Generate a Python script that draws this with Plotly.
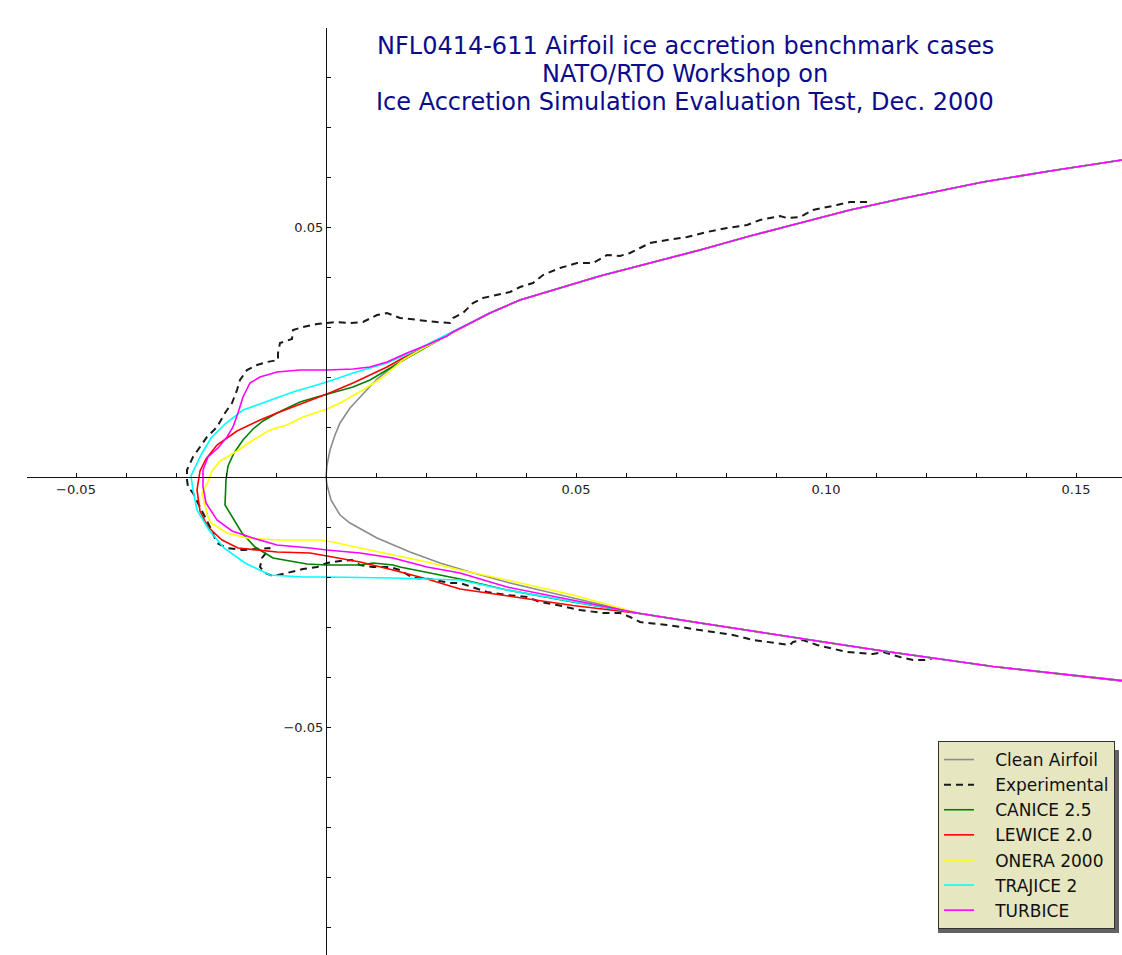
import plotly.graph_objects as go

# ---------------- data (chord-normalised coordinates) ----------------
# shared clean aft surfaces (all computed shapes coincide with them)
upper_surface = [(0.17, 0.0648), (0.1592, 0.0634), (0.1448, 0.0612), (0.1314, 0.059),
                 (0.1148, 0.0556), (0.1048, 0.0534), (0.0948, 0.0508), (0.0848, 0.0482),
                 (0.0748, 0.0454), (0.0648, 0.0428), (0.0548, 0.0402), (0.0468, 0.0378),
                 (0.0388, 0.0354), (0.0328, 0.0328), (0.0254, 0.029)]
lower_surface = [(0.0628, -0.0273), (0.0748, -0.0292), (0.0868, -0.031), (0.1, -0.0331),
                 (0.1114, -0.0348), (0.1334, -0.0379), (0.1591, -0.0408), (0.17, -0.0419)]

clean_le = [(0.0188, 0.0254), (0.0138, 0.0224), (0.0102, 0.0196), (0.0068, 0.016),
            (0.0048, 0.0138), (0.0028, 0.0108), (0.0018, 0.0084), (0.0008, 0.0054),
            (0.0002, 0.0024), (0.0, 0.0), (0.0002, -0.0016), (0.001, -0.0046),
            (0.0028, -0.0076), (0.0048, -0.0092), (0.0102, -0.0122), (0.0168, -0.015),
            (0.0228, -0.0172), (0.0288, -0.019), (0.0368, -0.0212), (0.0494, -0.0242)]

experimental = [(0.1082, 0.055), (0.1048, 0.055), (0.1022, 0.0544), (0.0974, 0.0534),
                (0.0948, 0.052), (0.0922, 0.0518), (0.0908, 0.0522), (0.0868, 0.0514),
                (0.0842, 0.0504), (0.0802, 0.0498), (0.0762, 0.049), (0.0722, 0.048),
                (0.0682, 0.0474), (0.0648, 0.0468), (0.0628, 0.0458), (0.0608, 0.0448),
                (0.0588, 0.0442), (0.0562, 0.0444), (0.0534, 0.0428), (0.0502, 0.0428),
                (0.0468, 0.0418), (0.0434, 0.0404), (0.0414, 0.0388), (0.0388, 0.038),
                (0.0368, 0.037), (0.0342, 0.0364), (0.0314, 0.0358), (0.0294, 0.0348),
                (0.0274, 0.0328), (0.0254, 0.0318), (0.0248, 0.0308), (0.0222, 0.031),
                (0.0188, 0.0314), (0.0148, 0.0318), (0.0122, 0.0328), (0.0102, 0.0324),
                (0.0074, 0.031), (0.0048, 0.0308), (0.0022, 0.031), (0.0002, 0.0308),
                (-0.0018, 0.0306), (-0.0046, 0.03), (-0.0066, 0.0294), (-0.0068, 0.0276),
                (-0.0092, 0.0268), (-0.0096, 0.0248), (-0.0096, 0.0234), (-0.0118, 0.023),
                (-0.0138, 0.0224), (-0.0158, 0.0214), (-0.0172, 0.0194), (-0.0178, 0.0174),
                (-0.0188, 0.0148), (-0.0202, 0.0128), (-0.0218, 0.01), (-0.0238, 0.008),
                (-0.0252, 0.006), (-0.0266, 0.004), (-0.0278, 0.0014), (-0.0278, -0.0006),
                (-0.0276, -0.002), (-0.0266, -0.0032), (-0.0252, -0.006), (-0.0232, -0.01),
                (-0.0218, -0.0132), (-0.0198, -0.0142), (-0.0166, -0.0146), (-0.0126, -0.0144),
                (-0.0112, -0.0142), (-0.0128, -0.0162), (-0.0132, -0.018), (-0.0122, -0.0192),
                (-0.0106, -0.0198), (-0.0078, -0.0192), (-0.0046, -0.0184), (-0.0018, -0.018),
                (0.0002, -0.0172), (0.0028, -0.0168), (0.0052, -0.0166), (0.0068, -0.0176),
                (0.0094, -0.018), (0.0128, -0.018), (0.0148, -0.0186), (0.0174, -0.0202),
                (0.0208, -0.0204), (0.0248, -0.0212), (0.0268, -0.0212), (0.0322, -0.023),
                (0.0362, -0.0236), (0.0402, -0.024), (0.0428, -0.025), (0.0462, -0.0256),
                (0.0508, -0.0266), (0.0554, -0.0272), (0.0588, -0.0272), (0.0608, -0.028),
                (0.0628, -0.029), (0.0682, -0.0296), (0.0722, -0.0302), (0.0774, -0.031),
                (0.0814, -0.0316), (0.0854, -0.0326), (0.0894, -0.0332), (0.0928, -0.0336),
                (0.0934, -0.033), (0.0954, -0.0326), (0.0982, -0.0336), (0.1008, -0.0342),
                (0.1042, -0.035), (0.1068, -0.0352), (0.1094, -0.0354), (0.1114, -0.035),
                (0.1148, -0.036), (0.1174, -0.0366), (0.1202, -0.0366), (0.1214, -0.0362)]

canice_le = [(0.0162, 0.0238), (0.0122, 0.0214), (0.0088, 0.0194), (0.0054, 0.018),
             (0.0008, 0.0168), (-0.0018, 0.016), (-0.0052, 0.015), (-0.0072, 0.014),
             (-0.0098, 0.0128), (-0.0126, 0.0112), (-0.0146, 0.0096), (-0.0166, 0.0074),
             (-0.0184, 0.0048), (-0.0196, 0.0022), (-0.02, -0.0006), (-0.0202, -0.0056),
             (-0.0192, -0.0072), (-0.0168, -0.0112), (-0.0142, -0.014), (-0.0106, -0.0162),
             (-0.0038, -0.0174), (0.0002, -0.0176), (0.0068, -0.0176), (0.0094, -0.0172),
             (0.0134, -0.0176), (0.0148, -0.018), (0.0268, -0.0204), (0.0362, -0.0226),
             (0.0494, -0.025)]

lewice_le = [(0.0154, 0.0238), (0.0122, 0.022), (0.0054, 0.0188), (0.0002, 0.0166),
             (-0.0046, 0.0148), (-0.0098, 0.0128), (-0.0132, 0.0114), (-0.0178, 0.0092),
             (-0.0218, 0.0064), (-0.024, 0.0036), (-0.0252, 0.0012), (-0.0258, -0.0026),
             (-0.0252, -0.0068), (-0.0236, -0.01), (-0.0208, -0.0126), (-0.0176, -0.0142),
             (-0.0098, -0.015), (-0.0032, -0.0152), (0.0002, -0.0158), (0.0068, -0.017),
             (0.0134, -0.0186), (0.0202, -0.0204), (0.0268, -0.0224), (0.0362, -0.0238),
             (0.0494, -0.0257)]

onera_le = [(0.0188, 0.0254), (0.0154, 0.0234), (0.0114, 0.02), (0.0074, 0.0174),
            (0.0028, 0.0148), (0.0002, 0.0136), (-0.0046, 0.012), (-0.0078, 0.0104),
            (-0.0112, 0.0094), (-0.0146, 0.0074), (-0.0178, 0.0052), (-0.0212, 0.0032),
            (-0.0228, 0.0012), (-0.0238, -0.0014), (-0.0248, -0.0032), (-0.0236, -0.008),
            (-0.023, -0.0092), (-0.0198, -0.0112), (-0.0158, -0.0122), (-0.0098, -0.0126),
            (-0.0012, -0.0126), (0.0014, -0.013), (0.0068, -0.0142), (0.0134, -0.0156),
            (0.0202, -0.017), (0.0268, -0.0186), (0.0362, -0.0206), (0.0494, -0.0236)]

trajice_le = [(0.0208, 0.0268), (0.0168, 0.0248), (0.0122, 0.0228), (0.0054, 0.0208),
              (0.0002, 0.019), (-0.0066, 0.017), (-0.0112, 0.0154), (-0.0166, 0.0134),
              (-0.0202, 0.0106), (-0.023, 0.0078), (-0.025, 0.0044), (-0.027, 0.0002),
              (-0.0266, -0.0026), (-0.0258, -0.0066), (-0.0234, -0.0106), (-0.0204, -0.0142),
              (-0.0162, -0.0172), (-0.0112, -0.0196), (-0.0046, -0.02), (0.0002, -0.02),
              (0.0134, -0.0202), (0.0268, -0.0206), (0.0362, -0.0226), (0.0494, -0.025)]

turbice_le = [(0.0242, 0.0282), (0.0202, 0.0264), (0.0162, 0.0248), (0.0122, 0.023),
              (0.0088, 0.022), (0.0054, 0.0216), (0.0002, 0.0214), (-0.0052, 0.0214),
              (-0.0098, 0.021), (-0.0132, 0.02), (-0.0152, 0.0188), (-0.0166, 0.016),
              (-0.0176, 0.0128), (-0.0186, 0.01), (-0.0198, 0.008), (-0.0216, 0.0058),
              (-0.0236, 0.004), (-0.0246, 0.0014), (-0.0246, -0.002), (-0.024, -0.0052),
              (-0.0218, -0.0086), (-0.0188, -0.0108), (-0.0146, -0.0122), (-0.0098, -0.0136),
              (-0.0032, -0.0142), (0.0002, -0.0146), (0.0068, -0.0152), (0.0134, -0.0162),
              (0.0202, -0.018), (0.0268, -0.0192), (0.0362, -0.022), (0.0494, -0.0246)]

series_names = ["Clean Airfoil", "Experimental", "CANICE 2.5", "LEWICE 2.0",
                "ONERA 2000", "TRAJICE 2", "TURBICE"]
series_colors = ["#8c8c8c", "#1a1a1a", "#008000", "#ff0000", "#ffff00", "#00ffff", "#ff00ff"]

x_ticks = [-0.05, 0.05, 0.10, 0.15]
x_ticktext = ["\u22120.05", "0.05", "0.10", "0.15"]
y_ticks = [-0.05, 0.05]
y_ticktext = ["\u22120.05", "0.05"]

x_range = [-0.0598, 0.1592]
y_range = [-0.0956, 0.0898]

title_lines = ["NFL0414-611 Airfoil ice accretion benchmark cases",
               "NATO/RTO Workshop on",
               "Ice Accretion Simulation Evaluation Test, Dec. 2000"]

# ---------------- figure ----------------
def full_shape(le):
    return upper_surface + le + lower_surface

shapes_data = [full_shape(clean_le), experimental, full_shape(canice_le),
               full_shape(lewice_le), full_shape(onera_le), full_shape(trajice_le),
               full_shape(turbice_le)]

fig = go.Figure()
for name, pts, col in zip(series_names, shapes_data, series_colors):
    fig.add_trace(go.Scatter(
        x=[p[0] for p in pts], y=[p[1] for p in pts], mode="lines",
        name="\u00a0\u00a0\u00a0" + name, legendgroup=name,
        line=dict(color=col, width=2.0 if name == "Experimental" else 1.6,
                  dash="7px,5px" if name == "Experimental" else "solid"),
    ))

W, H = 1122, 955
ml, mr, mt, mb = 27, 0, 28, 0
pw, ph = W - ml - mr, H - mt - mb

def px_x(p):
    return (p - ml) / pw

def px_y(p):
    return (H - mb - p) / ph

font = "DejaVu Sans, Verdana, sans-serif"
axis_common = dict(showgrid=False, zeroline=False, showline=True, linecolor="#111",
                   linewidth=1.3, ticks="inside", ticklen=4, tickwidth=1, tickcolor="#111",
                   tickfont=dict(family=font, size=13, color="#222"), anchor="free",
                   minor=dict(ticks="inside", ticklen=4, tickwidth=1, tickcolor="#111",
                              dtick=0.01, tick0=0, showgrid=False))

title_ann = []
for i, line in enumerate(title_lines):
    title_ann.append(dict(text=line, xref="paper", yref="paper", x=px_x(685),
                          y=px_y(46 + 28 * i), xanchor="center", yanchor="middle",
                          showarrow=False,
                          font=dict(family=font, size=24, color="#0c0c8a")))

fig.update_layout(
    width=W, height=H, autosize=False,
    margin=dict(l=ml, r=mr, t=mt, b=mb, pad=0),
    paper_bgcolor="white", plot_bgcolor="white",
    xaxis=dict(range=x_range, domain=[0, 1],
               position=(0 - y_range[0]) / (y_range[1] - y_range[0]),
               tickmode="array", tickvals=x_ticks, ticktext=x_ticktext, **axis_common),
    yaxis=dict(range=y_range, domain=[0, 1],
               position=(0 - x_range[0]) / (x_range[1] - x_range[0]),
               tickmode="array", tickvals=y_ticks, ticktext=y_ticktext, **axis_common),
    annotations=title_ann,
    showlegend=True,
    legend=dict(x=px_x(1115), y=px_y(929), xanchor="right", yanchor="bottom",
                bgcolor="#e6e6c1", bordercolor="#333", borderwidth=1,
                font=dict(family=font, size=17, color="#111"),
                traceorder="grouped", tracegroupgap=0, itemwidth=30),
    shapes=[dict(type="rect", xref="paper", yref="paper", layer="above",
                 x0=px_x(938), x1=px_x(1119), y0=px_y(933), y1=px_y(750),
                 fillcolor="rgba(70,70,70,0.85)", line=dict(width=0))],
)

fig.write_html("out.html", post_script="document.body.style.margin='0';",
               config={"displayModeBar": False})
